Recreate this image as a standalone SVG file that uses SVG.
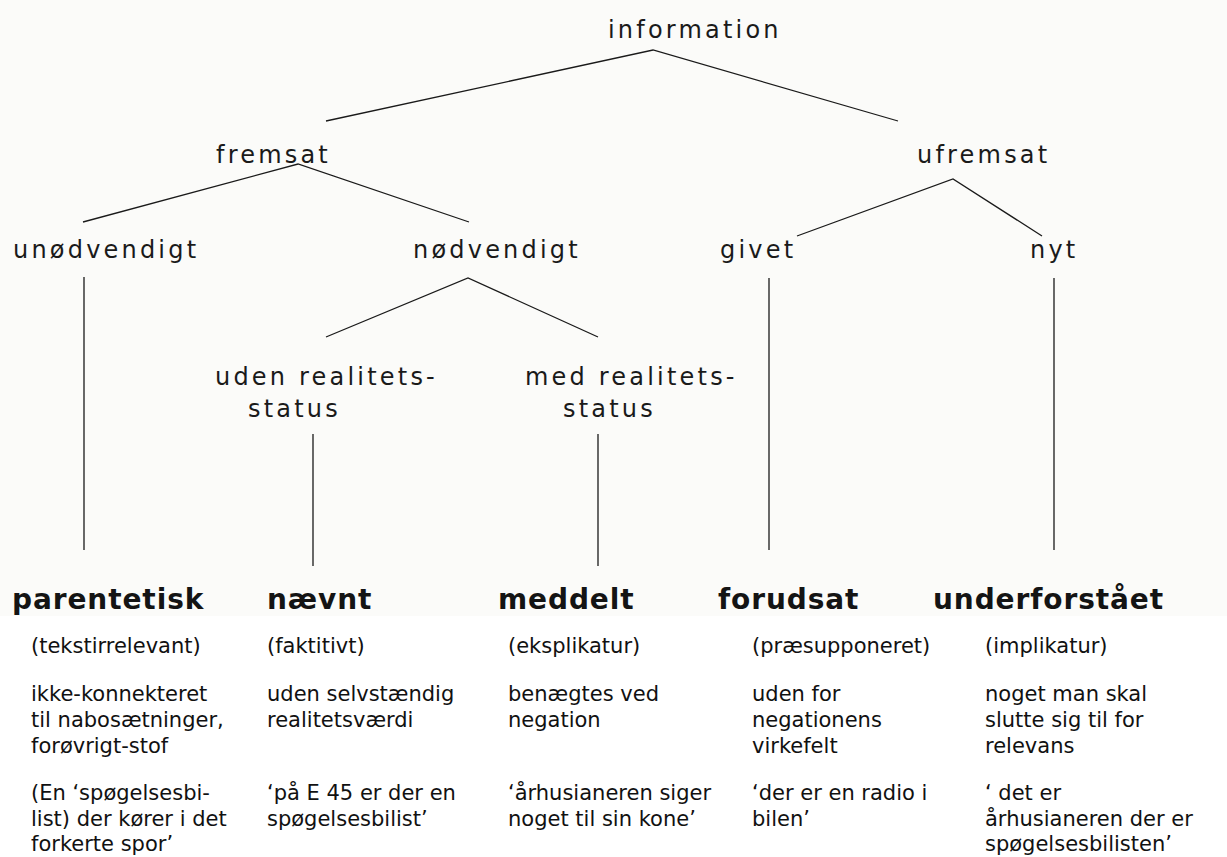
<svg xmlns="http://www.w3.org/2000/svg" width="1227" height="857" viewBox="0 0 1227 857">
  <style>
    .lbl { font-family: "DejaVu Sans", "Liberation Sans", sans-serif; font-size: 24px; letter-spacing: 3.2px; fill: #1a1a1a; }
    .big { font-family: "DejaVu Sans", "Liberation Sans", sans-serif; font-size: 28px; font-weight: bold; letter-spacing: 0.9px; fill: #141414; }
    .sub { font-family: "DejaVu Sans", "Liberation Sans", sans-serif; font-size: 21px; fill: #111111; }
    .edge { stroke: #1a1a1a; stroke-width: 1.3; fill: none; }
  </style>
  <rect x="0" y="0" width="1227" height="857" fill="#ffffff"/>
  <rect x="0" y="0" width="1227" height="616" fill="#fbfbf9"/>

  <g id="connectors">
    <polyline class="edge" points="326,121 653,50 898,121"/>
    <polyline class="edge" points="83,222 298,164 469,222"/>
    <polyline class="edge" points="326,337 468,278 598,337"/>
    <polyline class="edge" points="797,236 953,179 1042,236"/>
    <line class="edge" x1="84" y1="277" x2="84" y2="550"/>
    <line class="edge" x1="313" y1="434" x2="313" y2="566"/>
    <line class="edge" x1="598" y1="434" x2="598" y2="566"/>
    <line class="edge" x1="769" y1="278" x2="769" y2="550"/>
    <line class="edge" x1="1054" y1="278" x2="1054" y2="550"/>
  </g>

  <g id="information"><text class="lbl" x="608" y="38">information</text></g>
  <g id="fremsat"><text class="lbl" x="216" y="163">fremsat</text></g>
  <g id="ufremsat"><text class="lbl" x="917" y="163">ufremsat</text></g>
  <g id="unodvendigt"><text class="lbl" x="13" y="258">unødvendigt</text></g>
  <g id="nodvendigt"><text class="lbl" x="413" y="258">nødvendigt</text></g>
  <g id="givet"><text class="lbl" x="720" y="258">givet</text></g>
  <g id="nyt"><text class="lbl" x="1030" y="258">nyt</text></g>
  <g id="uden-realitetsstatus">
    <text class="lbl" x="215" y="385">uden realitets-</text>
    <text class="lbl" x="248" y="417">status</text>
  </g>
  <g id="med-realitetsstatus">
    <text class="lbl" x="525" y="385">med realitets-</text>
    <text class="lbl" x="563" y="417">status</text>
  </g>

  <g id="parentetisk">
    <text class="big" x="12" y="609">parentetisk</text>
    <text class="sub" x="31" y="653">(tekstirrelevant)</text>
    <text class="sub" x="31" y="701">ikke-konnekteret</text>
    <text class="sub" x="31" y="727">til nabosætninger,</text>
    <text class="sub" x="31" y="753">forøvrigt-stof</text>
    <text class="sub" x="31" y="800">(En ‘spøgelsesbi-</text>
    <text class="sub" x="31" y="826">list) der kører i det</text>
    <text class="sub" x="31" y="851">forkerte spor’</text>
  </g>
  <g id="naevnt">
    <text class="big" x="267" y="609">nævnt</text>
    <text class="sub" x="267" y="653">(faktitivt)</text>
    <text class="sub" x="267" y="701">uden selvstændig</text>
    <text class="sub" x="267" y="727">realitetsværdi</text>
    <text class="sub" x="267" y="800">‘på E 45 er der en</text>
    <text class="sub" x="267" y="826">spøgelsesbilist’</text>
  </g>
  <g id="meddelt">
    <text class="big" x="498" y="609">meddelt</text>
    <text class="sub" x="508" y="653">(eksplikatur)</text>
    <text class="sub" x="508" y="701">benægtes ved</text>
    <text class="sub" x="508" y="727">negation</text>
    <text class="sub" x="508" y="800">‘århusianeren siger</text>
    <text class="sub" x="508" y="826">noget til sin kone’</text>
  </g>
  <g id="forudsat">
    <text class="big" x="718" y="609">forudsat</text>
    <text class="sub" x="752" y="653">(præsupponeret)</text>
    <text class="sub" x="752" y="701">uden for</text>
    <text class="sub" x="752" y="727">negationens</text>
    <text class="sub" x="752" y="753">virkefelt</text>
    <text class="sub" x="752" y="800">‘der er en radio i</text>
    <text class="sub" x="752" y="826">bilen’</text>
  </g>
  <g id="underforstaaet">
    <text class="big" x="933" y="609">underforstået</text>
    <text class="sub" x="985" y="653">(implikatur)</text>
    <text class="sub" x="985" y="701">noget man skal</text>
    <text class="sub" x="985" y="727">slutte sig til for</text>
    <text class="sub" x="985" y="753">relevans</text>
    <text class="sub" x="985" y="800">‘ det er</text>
    <text class="sub" x="985" y="826">århusianeren der er</text>
    <text class="sub" x="985" y="851">spøgelsesbilisten’</text>
  </g>
</svg>
